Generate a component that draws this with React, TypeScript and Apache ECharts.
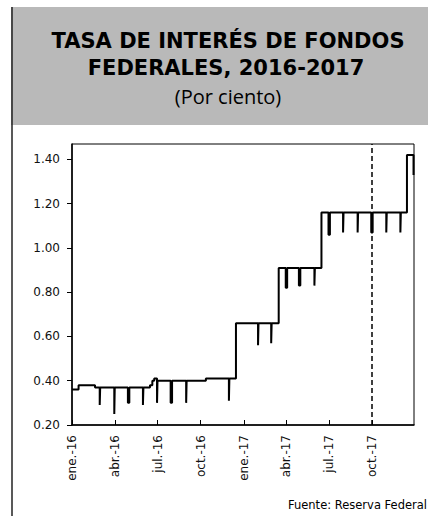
import React, { useEffect, useRef } from "react";
import * as echarts from "echarts";

// Change points of the effective federal funds rate (value holds until next date)
const rateDates = [
  "2016-01-01", "2016-01-15", "2016-02-19", "2016-02-29", "2016-03-01",
  "2016-03-31", "2016-04-01", "2016-04-29", "2016-05-02", "2016-05-31",
  "2016-06-01", "2016-06-15", "2016-06-20", "2016-06-24", "2016-06-30",
  "2016-07-01", "2016-07-29", "2016-08-01", "2016-08-31", "2016-09-01",
  "2016-10-12", "2016-11-30", "2016-12-01", "2016-12-15",
  "2017-01-31", "2017-02-01", "2017-02-28", "2017-03-01", "2017-03-16",
  "2017-03-31", "2017-04-03", "2017-04-28", "2017-05-01", "2017-05-31",
  "2017-06-01", "2017-06-15", "2017-06-30", "2017-07-03", "2017-07-31",
  "2017-08-01", "2017-08-31", "2017-09-01", "2017-09-29", "2017-10-02",
  "2017-10-31", "2017-11-01", "2017-11-30", "2017-12-01", "2017-12-14",
  "2017-12-28", "2017-12-29",
];
const rateValues = [
  0.36, 0.38, 0.37, 0.29, 0.37,
  0.25, 0.37, 0.30, 0.37, 0.29,
  0.37, 0.38, 0.40, 0.41, 0.30,
  0.40, 0.30, 0.40, 0.30, 0.40,
  0.41, 0.31, 0.41, 0.66,
  0.56, 0.66, 0.57, 0.66, 0.91,
  0.82, 0.91, 0.83, 0.91, 0.83,
  0.91, 1.16, 1.06, 1.16, 1.07,
  1.16, 1.07, 1.16, 1.07, 1.16,
  1.07, 1.16, 1.07, 1.16, 1.42,
  1.33, 1.33,
];

const quarterDates = [
  "2016-01-01", "2016-04-01", "2016-07-01", "2016-10-01",
  "2017-01-01", "2017-04-01", "2017-07-01", "2017-10-01",
];
const quarterLabels = [
  "ene.-16", "abr.-16", "jul.-16", "oct.-16",
  "ene.-17", "abr.-17", "jul.-17", "oct.-17",
];
const yTicks = [0.2, 0.4, 0.6, 0.8, 1.0, 1.2, 1.4];
const markerDate = "2017-10-01";
const xStart = "2016-01-01";
const xEnd = "2017-12-29";

const titleLine1 = "TASA DE INTERÉS DE FONDOS";
const titleLine2 = "FEDERALES, 2016-2017";
const subtitle = "(Por ciento)";
const sourceText = "Fuente: Reserva Federal";

const ts = (d: string) => new Date(d + "T00:00:00Z").getTime();

export default function App() {
  const ref = useRef<HTMLDivElement>(null);

  useEffect(() => {
    if (!ref.current) return;
    const chart = echarts.init(ref.current, null, { renderer: "svg" });
    const qTs = quarterDates.map(ts);
    const labelFor = (v: number) => {
      const i = qTs.indexOf(v);
      return i >= 0 ? quarterLabels[i] : "";
    };
    const axisFont = "DejaVu Sans";
    chart.setOption({
      animation: false,
      backgroundColor: "#ffffff",
      graphic: [
        {
          type: "rect",
          shape: { x: 11, y: 7, width: 417, height: 118 },
          style: { fill: "#b9b9b9" },
          z: 0,
        },
        {
          type: "line",
          shape: { x1: 12, y1: 7, x2: 12, y2: 516 },
          style: { stroke: "#222", lineWidth: 1.5 },
          z: 1,
        },
        {
          type: "text",
          x: 228,
          y: 41,
          style: {
            text: titleLine1,
            fill: "#000",
            font: "bold 21px 'DejaVu Sans'",
            textAlign: "center",
            textVerticalAlign: "middle",
          },
          z: 2,
        },
        {
          type: "text",
          x: 226,
          y: 68,
          style: {
            text: titleLine2,
            fill: "#000",
            font: "bold 21px 'DejaVu Sans'",
            textAlign: "center",
            textVerticalAlign: "middle",
          },
          z: 2,
        },
        {
          type: "text",
          x: 228,
          y: 96,
          style: {
            text: subtitle,
            fill: "#000",
            font: "20px 'Open Sans'",
            textAlign: "center",
            textVerticalAlign: "middle",
          },
          z: 2,
        },
        {
          type: "text",
          x: 427,
          y: 505,
          style: {
            text: sourceText,
            fill: "#000",
            font: "11.5px 'DejaVu Sans'",
            textAlign: "right",
            textVerticalAlign: "middle",
          },
          z: 2,
        },
      ],
      grid: {
        left: 72,
        top: 144,
        right: 14,
        bottom: 91,
        show: true,
        borderColor: "#000",
        borderWidth: 1,
        backgroundColor: "transparent",
      },
      xAxis: {
        type: "value",
        min: ts(xStart),
        max: ts(xEnd),
        axisLine: { show: true, lineStyle: { color: "#000", width: 1.5 } },
        axisTick: {
          show: true,
          inside: true,
          length: 5,
          customValues: qTs,
          lineStyle: { color: "#000", width: 1 },
        },
        axisLabel: {
          customValues: qTs,
          rotate: 90,
          margin: 10,
          formatter: (v: number) => labelFor(v),
          color: "#111",
          fontFamily: axisFont,
          fontSize: 12,
        },
        splitLine: { show: false },
      },
      yAxis: {
        type: "value",
        min: 0.2,
        max: 1.47,
        axisLine: { show: true, lineStyle: { color: "#000", width: 1.5 } },
        axisTick: {
          show: true,
          inside: false,
          length: 5,
          customValues: yTicks,
          lineStyle: { color: "#000", width: 1 },
        },
        axisLabel: {
          customValues: yTicks,
          margin: 12,
          formatter: (v: number) => v.toFixed(2),
          color: "#111",
          fontFamily: axisFont,
          fontSize: 12,
        },
        splitLine: { show: false },
      },
      series: [
        {
          type: "line",
          step: "end",
          symbol: "none",
          lineStyle: { color: "#000", width: 2 },
          data: rateDates.map((d, i) => [ts(d), rateValues[i]]),
          markLine: {
            silent: true,
            symbol: ["none", "none"],
            label: { show: false },
            lineStyle: { color: "#000", width: 1.5, type: [5, 3] },
            data: [{ xAxis: ts(markerDate) }],
          },
        },
      ],
    });
    return () => chart.dispose();
  }, []);

  return (
    <div
      ref={ref}
      style={{ position: "fixed", left: 0, top: 0, width: 428, height: 516 }}
    />
  );
}
